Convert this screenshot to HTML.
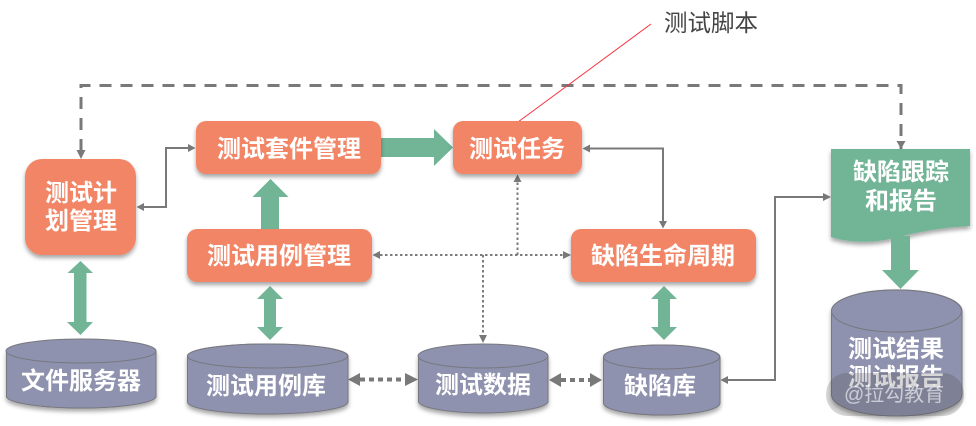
<!DOCTYPE html>
<html><head><meta charset="utf-8">
<style>
html,body{margin:0;padding:0;background:#fff;width:976px;height:426px;overflow:hidden}
svg{display:block;filter:blur(.35px)}
text{font-family:"Liberation Sans","Noto Sans CJK SC",sans-serif}
.w{fill:#fff;font-size:24px;font-weight:700;text-anchor:middle}
.box{fill:#f28566;filter:url(#sh)}
.cyl{fill:#8f92ae;stroke:#77777f;stroke-width:1}
.top{fill:#8f92ae;stroke:#77777f;stroke-width:1}
.g{fill:#71b496}
.ln{fill:none;stroke:#797979;stroke-width:2}
.dash{fill:none;stroke:#797979;stroke-width:3;stroke-dasharray:12 9}
.dot{fill:none;stroke:#7b7b7b;stroke-width:2;stroke-dasharray:2.5 2.5}
.dot2{fill:none;stroke:#797979;stroke-width:4;stroke-dasharray:5 4}
.a{fill:#797979}
</style></head><body>
<svg width="976" height="426" viewBox="0 0 976 426" xmlns="http://www.w3.org/2000/svg">
<defs>
<filter id="sh" x="-10%" y="-10%" width="120%" height="130%"><feDropShadow dx="0" dy="3" stdDeviation="2" flood-color="#000" flood-opacity=".35"/></filter>
</defs>

<!-- dashed top connector -->
<path class="dash" d="M81 151V85.500H901V211" />
<path class="a" d="M76.500 150H85.500L81 159Z"/>
<path class="a" d="M896.500 141H905.500L901 149Z"/>

<!-- red line -->
<line x1="518" y1="122" x2="651" y2="24" stroke="#f5333f" stroke-width="1"/>
<text x="664" y="31" font-size="23.500" fill="#444">测试脚本</text>

<!-- green arrows -->
<path class="g" d="M381 138H434V129L453 147.500L434 166V157H381Z"/>
<path class="g" d="M261 229V197H252.500L270.500 179L288.500 197H279V229Z"/>
<path class="g" d="M80.500 261L93 273H86.500V322H93L80.500 335L67 322H74V273H67.500Z"/>
<path class="g" d="M270 286L283 299H276V327H283L270 340L257 327H264V299H257Z"/>
<path class="g" d="M664 286L677 299H670V327H677L664 340L651 327H658V299H651Z"/>
<path class="g" d="M891 236H910V270H919L900.500 289L882 270H891Z"/>

<!-- solid connectors -->
<path class="ln" d="M144 207H166V148H190"/>
<path class="a" d="M136.500 207L144 203V211Z"/>
<path class="a" d="M195.500 148L188 144V152Z"/>
<path class="ln" d="M590 148.500H663V223"/>
<path class="a" d="M582.500 148.500L590 144.500V152.500Z"/>
<path class="a" d="M663 228.500L659 221H667Z"/>
<path class="ln" d="M728 380H775V197H825"/>
<path class="a" d="M720.500 380L728 376V384Z"/>
<path class="a" d="M831 197L823 193V201Z"/>

<!-- dotted connectors -->
<path class="dot" d="M380 255H566"/>
<path class="a" d="M372.500 255L380 251V259Z"/>
<path class="a" d="M571 255L563 251V259Z"/>
<path class="dot" d="M517.500 255V182"/>
<path class="a" d="M517.500 174.500L521.500 182H513.500Z"/>
<path class="dot" d="M483 255V336"/>
<path class="a" d="M483 343L479 335H487Z"/>
<path class="dot2" d="M360 379.500H407"/>
<path class="a" d="M348 379.500L360 373V386Z"/>
<path class="a" d="M418 379.500L405 373V386Z"/>
<path class="dot2" d="M561 380H591"/>
<path class="a" d="M549 380L561 373V387Z"/>
<path class="a" d="M602 380L590 373V387Z"/>

<!-- boxes -->
<rect class="box" x="25" y="159" width="111" height="96" rx="17"/>
<rect class="box" x="196" y="121" width="185" height="53" rx="10"/>
<rect class="box" x="187" y="229" width="185" height="53" rx="10"/>
<rect class="box" x="453" y="121" width="129" height="53" rx="10"/>
<rect class="box" x="571" y="229" width="185" height="53" rx="10"/>

<text class="w" x="81" y="201">测试计</text>
<text class="w" x="81" y="229">划管理</text>
<text class="w" x="289" y="157">测试套件管理</text>
<text class="w" x="279" y="264">测试用例管理</text>
<text class="w" x="517" y="157">测试任务</text>
<text class="w" x="663" y="264">缺陷生命周期</text>

<!-- document -->
<path d="M831 149H970V226C935 228 915 233 890 239C870 243 850 243 831 237Z" fill="#71b496" filter="url(#sh)"/>
<path class="g" d="M891 236H910V260H891Z"/>
<text class="w" x="901" y="180">缺陷跟踪</text>
<text class="w" x="901" y="209">和报告</text>

<!-- cylinders -->
<g filter="url(#sh)">
<path class="cyl" d="M6.500 351A75 12 0 0 1 156 351V397A75 12 0 0 1 6.500 397Z"/>
<path class="cyl" d="M187.500 356A80 12 0 0 1 348 356V402A80 12 0 0 1 187.500 402Z"/>
<path class="cyl" d="M418.500 356A65 12 0 0 1 548 356V402A65 12 0 0 1 418.500 402Z"/>
<path class="cyl" d="M603.500 357A58 12 0 0 1 720 357V403A58 12 0 0 1 603.500 403Z"/>
<path class="cyl" d="M831.500 311A65 21 0 0 1 962 311V395A65 21 0 0 1 831.500 395Z"/>
</g>
<ellipse class="top" cx="81" cy="351" rx="75" ry="12"/>
<ellipse class="top" cx="267.500" cy="356" rx="80" ry="12"/>
<ellipse class="top" cx="483" cy="356" rx="65" ry="12"/>
<ellipse class="top" cx="661.500" cy="357" rx="58" ry="12"/>
<ellipse class="top" cx="896.500" cy="311" rx="65" ry="21"/>

<text class="w" x="81" y="389">文件服务器</text>
<text class="w" x="266" y="394">测试用例库</text>
<text class="w" x="483" y="393">测试数据</text>
<text class="w" x="660" y="394">缺陷库</text>
<text class="w" x="896" y="357">测试结果</text>
<text class="w" x="896" y="385">测试报告</text>

<!-- watermark -->
<rect x="826" y="373" width="138" height="43" rx="21" fill="#444" fill-opacity=".22"/>
<text x="844" y="401" font-size="20px" fill="#fff" fill-opacity=".6">@拉勾教育</text>
</svg>
</body></html>
